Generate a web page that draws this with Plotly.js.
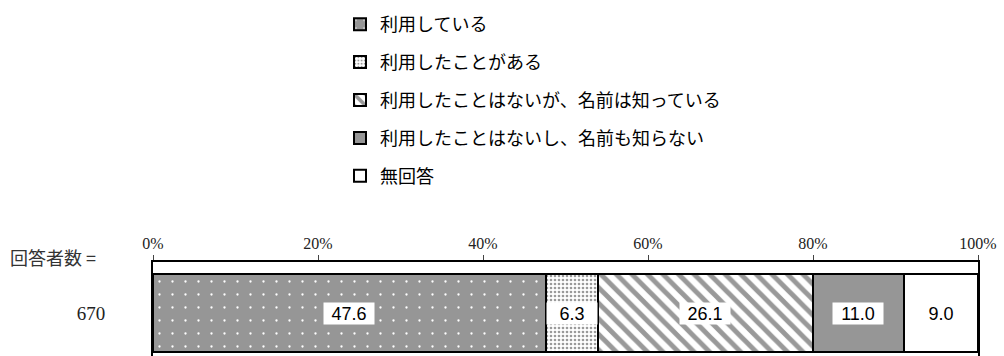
<!DOCTYPE html>
<html>
<head>
<meta charset="utf-8">
<script src="https://cdn.plot.ly/plotly-3.0.1.min.js"></script>
<style>
  html, body { margin: 0; padding: 0; background: #fff; }
  #chart { width: 1004px; height: 356px; }
</style>
</head>
<body>
<div id="chart"></div>
<script>
// respondents row and answer shares (%)
const rowLabels = ['670'];
const seriesNames = [
    '利用している',
    '利用したことがある',
    '利用したことはないが、名前は知っている',
    '利用したことはないし、名前も知らない',
    '無回答'
];
const seriesValues = [47.6, 6.3, 26.1, 11.0, 9.0];
const tickValues = [0, 20, 40, 60, 80, 100];
const tickLabels = ['0%', '20%', '40%', '60%', '80%', '100%'];

const gray = '#969696';
const patterns = [
    { shape: '.', bgcolor: gray, fgcolor: '#ffffff', fgopacity: 1, size: 13, solidity: 0.025, fillmode: 'replace' },
    { shape: '.', bgcolor: '#ffffff', fgcolor: '#9a9a9a', fgopacity: 1, size: 4, solidity: 0.35, fillmode: 'replace' },
    { shape: '\\', bgcolor: '#ffffff', fgcolor: '#999999', fgopacity: 1, size: 11, solidity: 0.45, fillmode: 'replace' },
    { shape: '', bgcolor: gray },
    { shape: '', bgcolor: '#ffffff' }
];
const fills = [gray, '#ffffff', '#ffffff', gray, '#ffffff'];

const traces = seriesNames.map((name, i) => ({
    type: 'bar',
    orientation: 'h',
    name: name,
    legendgroup: 'g' + i,
    y: rowLabels,
    x: [seriesValues[i]],
    width: 1,
    marker: {
        color: fills[i],
        pattern: patterns[i],
        line: { color: '#000', width: 2 }
    },
    hoverinfo: 'none'
}));

// value labels in white boxes, centred on each segment (row index 0)
const annotations = [];
let cum = 0;
seriesValues.forEach(v => {
    annotations.push({
        x: cum + v / 2, y: 0, xref: 'x', yref: 'y',
        text: v.toFixed(1), showarrow: false,
        font: { family: 'Liberation Sans, Arial', size: 18, color: '#000' },
        bgcolor: '#ffffff', width: 50, height: 21, borderpad: 0
    });
    cum += v;
});
annotations.push({
    x: -0.1753, y: 1.053, xref: 'paper', yref: 'paper',
    xanchor: 'left', yanchor: 'middle', showarrow: false,
    text: '回答者数 =',
    font: { family: 'Noto Sans CJK JP', size: 18, color: '#333' }
});

const layout = {
    width: 1004, height: 356,
    margin: { l: 152.7, r: 26, t: 262, b: 0, autoexpand: false },
    paper_bgcolor: '#fff', plot_bgcolor: '#fff',
    barmode: 'stack', bargap: 0,
    showlegend: true,
    legend: {
        xref: 'container', yref: 'container',
        x: 340 / 1004, y: 1 - 6 / 356, xanchor: 'left', yanchor: 'top',
        traceorder: 'grouped', tracegroupgap: 11.5, maxheight: 300,
        font: { family: 'Noto Sans CJK JP', size: 18, color: '#000' },
        bgcolor: 'rgba(0,0,0,0)'
    },
    xaxis: {
        side: 'top', range: [0, 100], tickmode: 'array', tickvals: tickValues, ticktext: tickLabels,
        ticks: 'outside', ticklen: 5, tickwidth: 1, tickcolor: '#444',
        showline: true, linewidth: 2, linecolor: '#000',
        showgrid: false, zeroline: false, fixedrange: true,
        tickfont: { family: 'Liberation Serif', size: 16, color: '#222' }
    },
    yaxis: {
        type: 'category', range: [-0.551, 0.654],
        showline: true, mirror: true, linewidth: 2, linecolor: '#000',
        showgrid: false, zeroline: false, ticks: '', ticklabelstandoff: 42,
        tickfont: { family: 'Liberation Serif', size: 19, color: '#222' }
    },
    annotations: annotations
};

Plotly.newPlot('chart', traces, layout, { staticPlot: true, displayModeBar: false });
</script>
</body>
</html>
